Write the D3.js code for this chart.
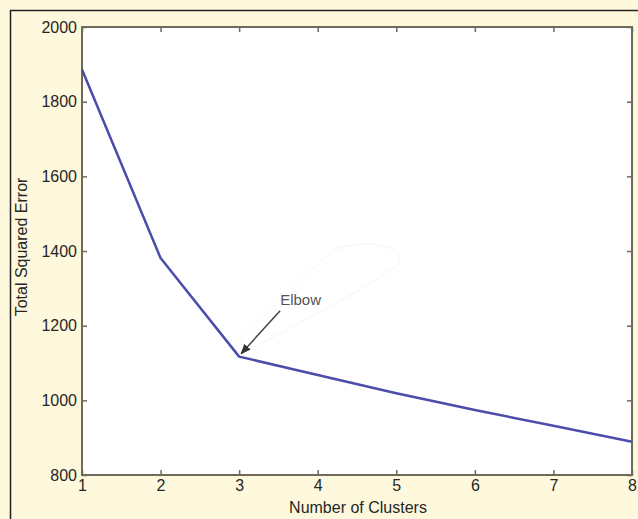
<!DOCTYPE html>
<html>
<head>
<meta charset="utf-8">
<script src="https://cdn.jsdelivr.net/npm/d3@7"></script>
<style>
  html, body { margin: 0; padding: 0; background: #fef9dc; }
  svg { display: block; }
  text { font-family: "Liberation Sans", Arial, Helvetica, sans-serif; }
</style>
</head>
<body>
<svg id="chart" width="638" height="519"></svg>
<script>
// data
const clusters = [1, 2, 3, 4, 5, 6, 7, 8];
const sse = [1886, 1381, 1117, 1068, 1019, 974, 932, 889];
const xTicks = [1, 2, 3, 4, 5, 6, 7, 8];
const yTicks = [800, 1000, 1200, 1400, 1600, 1800, 2000];
const annotation = { text: 'Elbow', at: 3 };

const svg = d3.select('#chart');
const plotLeft = 82, plotRight = 632, plotTop = 27, plotBottom = 475;

const x = d3.scaleLinear().domain([1, 8]).range([plotLeft, plotRight]);
const y = d3.scaleLinear().domain([800, 2000]).range([plotBottom, plotTop]);

// outer frame (only top / left edges visible)
svg.append('rect')
  .attr('x', 10.5).attr('y', 10.5)
  .attr('width', 700).attr('height', 600)
  .attr('fill', '#fef9dc')
  .attr('stroke', '#222').attr('stroke-width', 1.5);

// plot area
svg.append('rect')
  .attr('x', plotLeft).attr('y', plotTop)
  .attr('width', plotRight - plotLeft).attr('height', plotBottom - plotTop)
  .attr('fill', '#fff');

const axisColor = '#6f6a5c';
const labelColor = '#262626';

function styleAxis(g, labels) {
  g.select('.domain').remove();
  g.selectAll('.tick line').attr('stroke', axisColor).attr('stroke-width', 1.5);
  if (labels) {
    g.selectAll('.tick text')
      .attr('fill', labelColor)
      .style('font-size', '16px');
  } else {
    g.selectAll('.tick text').remove();
  }
}

svg.append('g')
  .attr('transform', `translate(0,${plotBottom})`)
  .call(d3.axisBottom(x).tickValues(xTicks).tickFormat(d3.format('d')).tickSize(-5).tickPadding(5))
  .call(g => styleAxis(g, true));

svg.append('g')
  .attr('transform', `translate(0,${plotTop})`)
  .call(d3.axisTop(x).tickValues(xTicks).tickSize(-5))
  .call(g => styleAxis(g, false));

svg.append('g')
  .attr('transform', `translate(${plotLeft},0)`)
  .call(d3.axisLeft(y).tickValues(yTicks).tickFormat(d3.format('d')).tickSize(-5).tickPadding(5))
  .call(g => styleAxis(g, true));

svg.append('g')
  .attr('transform', `translate(${plotRight},0)`)
  .call(d3.axisRight(y).tickValues(yTicks).tickSize(-5))
  .call(g => styleAxis(g, false));

// box
svg.append('rect')
  .attr('x', plotLeft).attr('y', plotTop)
  .attr('width', plotRight - plotLeft).attr('height', plotBottom - plotTop)
  .attr('fill', 'none')
  .attr('stroke', axisColor).attr('stroke-width', 2);

// faint scribble behind the label
svg.append('path')
  .attr('d', d3.line().curve(d3.curveCardinalClosed.tension(0.4))([
    [242, 338], [290, 290], [335, 250], [372, 244], [398, 252], [396, 266], [345, 298], [255, 346]
  ]))
  .attr('fill', 'none')
  .attr('stroke', '#f8f5ea')
  .attr('stroke-width', 1);

// the curve
const line = d3.line()
  .x((d, i) => x(clusters[i]))
  .y(d => y(d));

svg.append('path')
  .datum(sse)
  .attr('d', line)
  .attr('fill', 'none')
  .attr('stroke', '#4b4cab')
  .attr('stroke-width', 2.5)
  .attr('stroke-linejoin', 'round');

// elbow annotation
const ex = x(annotation.at), ey = y(sse[clusters.indexOf(annotation.at)]);

svg.append('defs').append('marker')
  .attr('id', 'head')
  .attr('viewBox', '0 0 10 10')
  .attr('refX', 9).attr('refY', 5)
  .attr('markerWidth', 7).attr('markerHeight', 7)
  .attr('orient', 'auto')
  .append('path')
  .attr('d', 'M0,1 L10,5 L0,9 Z')
  .attr('fill', '#333');

svg.append('line')
  .attr('x1', ex + 41).attr('y1', ey - 46)
  .attr('x2', ex + 2).attr('y2', ey - 3)
  .attr('stroke', '#444').attr('stroke-width', 1.5)
  .attr('marker-end', 'url(#head)');

svg.append('text')
  .attr('x', ex + 41).attr('y', ey - 52)
  .attr('fill', '#555')
  .style('font-size', '15px')
  .text(annotation.text);

// axis titles
svg.append('text')
  .attr('x', 358).attr('y', 513)
  .attr('text-anchor', 'middle')
  .attr('fill', labelColor)
  .style('font-size', '16px')
  .text('Number of Clusters');

svg.append('text')
  .attr('transform', `translate(27,247) rotate(-90)`)
  .attr('text-anchor', 'middle')
  .attr('fill', labelColor)
  .style('font-size', '16px')
  .text('Total Squared Error');
</script>
</body>
</html>
